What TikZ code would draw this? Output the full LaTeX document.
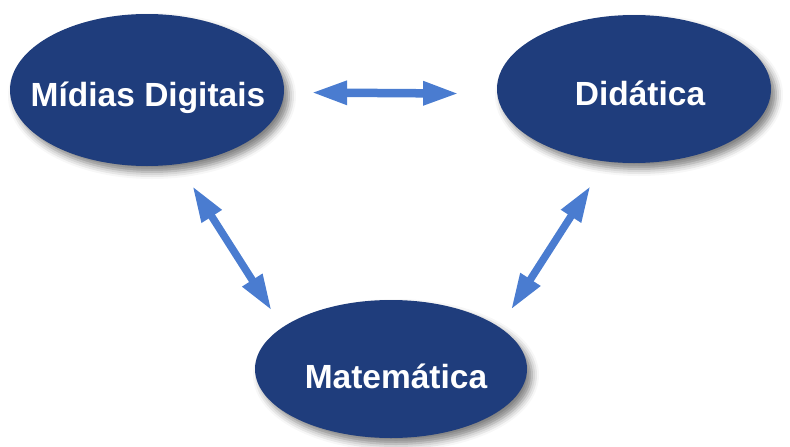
\documentclass[tikz,border=0pt]{standalone}
\usepackage{fontspec}
\setmainfont{Liberation Sans}
\usetikzlibrary{shapes.geometric,arrows.meta,shadows.blur}
\definecolor{navy}{RGB}{31,61,124}
\definecolor{linkblue}{RGB}{74,124,208}
\tikzset{
  topic/.style={ellipse, fill=navy, inner sep=0pt, text=white,
    font=\fontsize{33.5}{40}\selectfont\bfseries, text depth=0pt,
    blur shadow={shadow xshift=5pt, shadow yshift=-6pt, shadow blur radius=7pt, shadow opacity=50}},
  link/.style={draw=linkblue, line width=8.5pt,
    {Triangle[length=36pt,width=22pt]}-{Triangle[length=36pt,width=22pt]}}
}
% centred label of zero width, nudged sideways by #1
\newcommand{\topiclabel}[2]{\makebox[0pt]{\kern#1#2}}
\begin{document}
\begin{tikzpicture}[x=1pt, y=-1pt]
  \path[use as bounding box] (0,0) rectangle (790,447);
  \node[topic, text height=32pt, minimum width=274pt, minimum height=152pt] (md) at (147,90) {\topiclabel{2pt}{Mídias Digitais}};
  \node[topic, text height=32pt, minimum width=274pt, minimum height=148pt] (di) at (634,89) {\topiclabel{12pt}{Didática}};
  \node[topic, text height=39pt, minimum width=272pt, minimum height=138pt] (ma) at (391,369) {\topiclabel{10pt}{Matemática}};

  \draw[link, shorten <=27pt, shorten >=38pt] (md.-1) -- (di.182);
  \draw[link, line width=7.5pt, shorten <=26pt, shorten >=20pt] (md.-67) -- (ma.159);
  \draw[link, line width=7.5pt, shorten <=29pt, shorten >=21pt] (di.-111) -- (ma.21);
\end{tikzpicture}
\end{document}
